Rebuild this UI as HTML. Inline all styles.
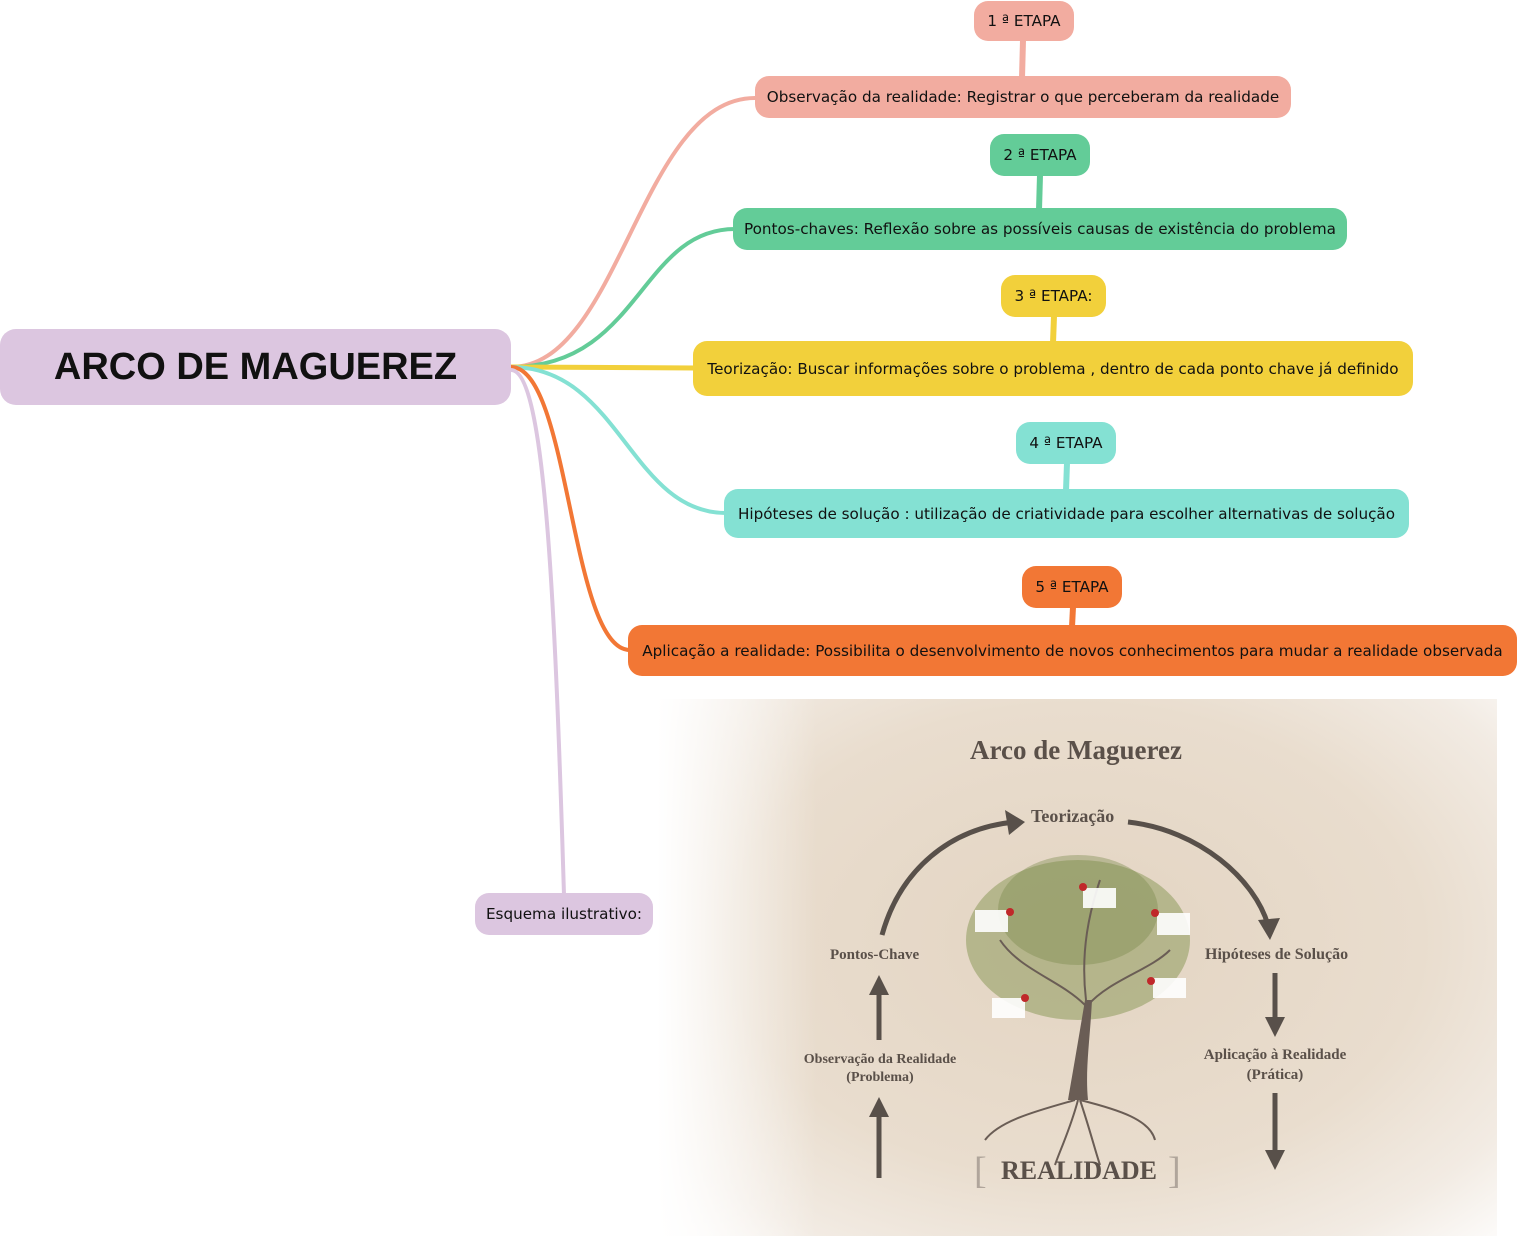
<!DOCTYPE html>
<html><head><meta charset="utf-8"><style>
body{margin:0;width:1517px;height:1236px;position:relative;background:#fff;font-family:"DejaVu Sans","Liberation Sans",sans-serif;overflow:hidden}
.n{position:absolute;box-sizing:border-box;display:flex;align-items:center;justify-content:center;font-size:15.2px;color:#111;border-radius:14px;white-space:nowrap}
.s{font-family:"Liberation Serif",serif;font-weight:bold;color:#5a5049;position:absolute;white-space:nowrap}
</style></head><body>
<div style="position:absolute;left:657px;top:699px;width:840px;height:537px;background:radial-gradient(ellipse 75% 80% at 50% 45%,#e3d4c2 0%,#e9ddce 55%,#f2ebe3 80%,#ffffff 100%)"></div>
<div style="position:absolute;left:657px;top:699px;width:160px;height:537px;background:linear-gradient(90deg,#fff 0%,rgba(255,255,255,0) 100%)"></div>
<svg width="1517" height="1236" style="position:absolute;left:0;top:0">
<g fill="none" stroke-linecap="round">
<path d="M511 367 C620 367 640 98 755 98" stroke="#f2aca0" stroke-width="4"/>
<path d="M511 367 C640 367 640 229 735 229" stroke="#63cc98" stroke-width="4"/>
<path d="M511 367 L695 368" stroke="#f2d03b" stroke-width="5"/>
<path d="M511 367 C620 367 630 513 726 513" stroke="#84e1d3" stroke-width="4"/>
<path d="M511 367 C570 367 570 650 630 650" stroke="#f27735" stroke-width="4"/>
<path d="M511 370 C545 370 555 600 564 895" stroke="#dcc6e0" stroke-width="4"/>
</g>
<polygon points="1020,40 1026,40 1025,78 1019,78" fill="#f2aca0"/>
<polygon points="1037,175 1043,175 1042,210 1036,210" fill="#63cc98"/>
<polygon points="1051,316 1057,316 1056,343 1050,343" fill="#f2d03b"/>
<polygon points="1064,463 1070,463 1069,491 1063,491" fill="#84e1d3"/>
<polygon points="1070,607 1076,607 1075,627 1069,627" fill="#f27735"/>
<g stroke="#58504a" stroke-width="5" fill="#58504a">
<path d="M882 935 C900 870 950 828 1015 822" fill="none"/>
<polygon points="1025,822 1005,810 1009,835" stroke="none"/>
<path d="M1128 822 C1200 830 1255 880 1268 925" fill="none"/>
<polygon points="1270,940 1258,920 1280,918" stroke="none"/>
<line x1="879" y1="988" x2="879" y2="1040"/><polygon points="879,975 869,995 889,995" stroke="none"/>
<line x1="879" y1="1110" x2="879" y2="1178"/><polygon points="879,1097 869,1117 889,1117" stroke="none"/>
<line x1="1275" y1="973" x2="1275" y2="1025"/><polygon points="1275,1037 1265,1017 1285,1017" stroke="none"/>
<line x1="1275" y1="1093" x2="1275" y2="1158"/><polygon points="1275,1170 1265,1150 1285,1150" stroke="none"/>
</g>
<ellipse cx="1078" cy="940" rx="112" ry="80" fill="#8e9b5c" opacity="0.55"/>
<ellipse cx="1078" cy="910" rx="80" ry="55" fill="#7b8a4a" opacity="0.4"/>
<path d="M1068 1100 C1075 1060 1080 1030 1085 1000 L1092 1000 C1090 1040 1085 1070 1088 1100 Z" fill="#6a5d55"/>
<g stroke="#6a5d55" stroke-width="2" fill="none">
<path d="M1085 1005 C1060 980 1020 970 1000 940"/><path d="M1088 1005 C1110 980 1150 970 1170 950"/>
<path d="M1086 1000 C1080 950 1090 910 1100 880"/>
<path d="M1075 1100 C1040 1110 1000 1120 985 1140"/><path d="M1080 1100 C1120 1110 1150 1120 1155 1140"/>
<path d="M1078 1100 C1070 1130 1060 1150 1055 1165"/><path d="M1080 1100 C1090 1130 1095 1150 1100 1165"/>
</g>
<g fill="#fff" opacity="0.9"><rect x="975" y="910" width="33" height="22"/><rect x="1083" y="888" width="33" height="20"/><rect x="1157" y="913" width="33" height="22"/><rect x="992" y="998" width="33" height="20"/><rect x="1153" y="978" width="33" height="20"/></g>
<g fill="#c0282a"><circle cx="1010" cy="912" r="4"/><circle cx="1083" cy="887" r="4"/><circle cx="1155" cy="913" r="4"/><circle cx="1025" cy="998" r="4"/><circle cx="1151" cy="981" r="4"/></g>
<text x="974" y="1183" font-family="Liberation Serif" font-size="38" fill="#b0a59b">[</text>
<text x="1168" y="1183" font-family="Liberation Serif" font-size="38" fill="#b0a59b">]</text>
</svg>
<div class="s" style="left:970px;top:735px;font-size:27px">Arco de Maguerez</div>
<div class="s" style="left:1031px;top:806px;font-size:18px">Teorização</div>
<div class="s" style="left:830px;top:947px;font-size:15px">Pontos-Chave</div>
<div class="s" style="left:1205px;top:946px;font-size:16px">Hipóteses de Solução</div>
<div class="s" style="left:797px;top:1051px;font-size:14px;text-align:center;width:166px;line-height:18px">Observação da Realidade<br>(Problema)</div>
<div class="s" style="left:1193px;top:1045px;font-size:15px;text-align:center;width:164px;line-height:20px">Aplicação à Realidade<br>(Prática)</div>
<div class="s" style="left:1001px;top:1156px;font-size:26px">REALIDADE</div>

<div class="n" style="left:0;top:329px;width:511px;height:76px;background:#dcc6e0;font-family:'Liberation Sans',sans-serif;font-size:38px;font-weight:bold;border-radius:16px">ARCO DE MAGUEREZ</div>
<div class="n" style="left:974px;top:1px;width:100px;height:40px;background:#f2aca0">1 ª ETAPA</div>
<div class="n" style="left:755px;top:76px;width:536px;height:42px;background:#f2aca0">Observação da realidade: Registrar o que perceberam da realidade</div>
<div class="n" style="left:990px;top:134px;width:100px;height:42px;background:#63cc98">2 ª ETAPA</div>
<div class="n" style="left:733px;top:208px;width:614px;height:42px;background:#63cc98">Pontos-chaves: Reflexão sobre as possíveis causas de existência do problema</div>
<div class="n" style="left:1001px;top:275px;width:105px;height:42px;background:#f2d03b">3 ª ETAPA:</div>
<div class="n" style="left:693px;top:341px;width:720px;height:55px;background:#f2d03b">Teorização: Buscar informações sobre o problema , dentro de cada ponto chave já definido</div>
<div class="n" style="left:1016px;top:422px;width:100px;height:42px;background:#84e1d3">4 ª ETAPA</div>
<div class="n" style="left:724px;top:489px;width:685px;height:49px;background:#84e1d3">Hipóteses de solução : utilização de criatividade para escolher alternativas de solução</div>
<div class="n" style="left:1022px;top:566px;width:100px;height:42px;background:#f27735">5 ª ETAPA</div>
<div class="n" style="left:628px;top:625px;width:889px;height:51px;background:#f27735">Aplicação a realidade: Possibilita o desenvolvimento de novos conhecimentos para mudar a realidade observada</div>
<div class="n" style="left:475px;top:893px;width:178px;height:42px;background:#dcc6e0">Esquema ilustrativo:</div>
</body></html>
